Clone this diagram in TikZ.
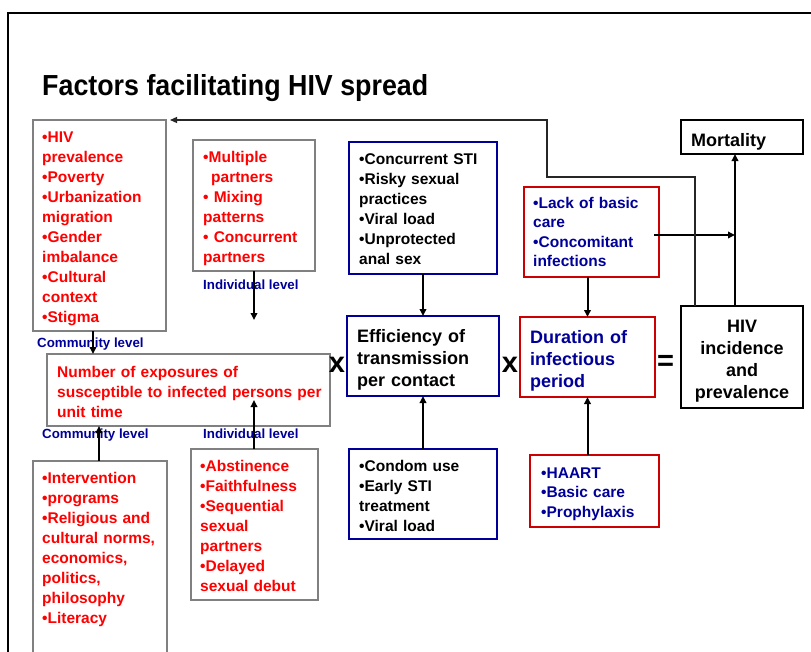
\documentclass[tikz,border=0pt]{standalone}
\usepackage{fontspec}
\setmainfont{Liberation Sans}
\usepackage{graphicx}
\usetikzlibrary{arrows.meta}
\definecolor{navy}{RGB}{0,0,153}
\definecolor{boxred}{RGB}{204,0,0}
\definecolor{boxgray}{RGB}{128,128,128}
\definecolor{txtred}{RGB}{255,0,0}
\newcommand{\mkbox}[6]{\node[#2, minimum width={#5-#3}, minimum height={#6-#4}] (#1) at ({(#3+#5)/2},{(#4+#6)/2}) {};}
\begin{document}
\begin{tikzpicture}[x=1pt,y=-1pt,
 bx/.style={rectangle, inner sep=0pt, outer sep=0pt, line width=2.5pt},
 gbox/.style={bx, draw=boxgray},
 bbox/.style={bx, draw=navy},
 rbox/.style={bx, draw=boxred},
 kbox/.style={bx, draw=black},
 lst/.style={anchor=base west, inner sep=0pt, text width=320pt, align=left, font=\fontsize{15.5}{20}\selectfont\bfseries},
 lstb/.style={lst, font=\fontsize{15.5}{19.5}\selectfont\bfseries},
 big/.style={anchor=base west, inner sep=0pt, text width=200pt, align=left, font=\fontsize{18}{22}\selectfont\bfseries},
 lvl/.style={anchor=base west, inner sep=0pt, text=navy, font=\fontsize{13.3}{15}\selectfont\bfseries},
 opsign/.style={anchor=base, inner sep=0pt, font=\fontsize{29}{30}\selectfont\bfseries},
 arr/.style={line width=2pt, -{Triangle[length=7pt,width=6.5pt]}},
 thinline/.style={line width=1.2pt, draw=black!85, -{Triangle[length=7pt,width=6pt]}},
]
\useasboundingbox (0,0) rectangle (811,651);
\clip (0,0) rectangle (811,651);
\fill[white] (0,0) rectangle (811,651);
% frame
\draw[line width=1.8pt] (8,700) -- (8,13) -- (830,13);
% title
\node[anchor=base west, inner sep=0pt, font=\fontsize{29}{30}\selectfont\bfseries] (title) at (42,95.5) {\scalebox{0.925}[1]{Factors facilitating HIV spread}};
% boxes
\mkbox{comm1}{gbox}{33}{120}{166}{331}
\mkbox{ind1}{gbox}{193}{140}{315}{271}
\mkbox{num}{gbox}{47}{354}{330}{426}
\mkbox{comm2}{gbox}{33}{461}{167}{665}
\mkbox{ind2}{gbox}{191}{449}{318}{600}
\mkbox{sti}{bbox}{349}{142}{497}{274}
\mkbox{eff}{bbox}{347}{316}{499}{396}
\mkbox{condom}{bbox}{349}{449}{497}{539}
\mkbox{lack}{rbox}{524}{187}{659}{277}
\mkbox{dur}{rbox}{520}{317}{655}{397}
\mkbox{haart}{rbox}{530}{455}{659}{527}
\mkbox{mort}{kbox}{681}{120}{803}{154}
\mkbox{hiv}{kbox}{681}{306}{803}{408}
% texts
\node[lst, text=txtred] (tcomm1) at (42,142) {•HIV\\prevalence\\•Poverty\\•Urbanization\\migration\\•Gender\\imbalance\\•Cultural\\context\\•Stigma};
\node[lst, text=txtred] (tind1) at (203,162) {•Multiple\\\hspace*{8pt}partners\\• Mixing\\patterns\\• Concurrent\\partners};
\node[lst, text=txtred] (tnum) at (57,377.5) {Number of exposures of\\susceptible to infected persons per\\unit time};
\node[lst, text=txtred] (tcomm2) at (42,483) {•Intervention\\•programs\\•Religious and\\cultural norms,\\economics,\\politics,\\philosophy\\•Literacy};
\node[lst, text=txtred] (tind2) at (200,471) {•Abstinence\\•Faithfulness\\•Sequential\\sexual\\partners\\•Delayed\\sexual debut};
\node[lst, text=black] (tsti) at (359,164) {•Concurrent STI\\•Risky sexual\\practices\\•Viral load\\•Unprotected\\anal sex};
\node[big, text=black] (teff) at (357,342) {Efficiency of\\transmission\\per contact};
\node[lst, text=black] (tcondom) at (359,471) {•Condom use\\•Early STI\\treatment\\•Viral load};
\node[big, text=navy] (tdur) at (530,343) {Duration of\\infectious\\period};
\node[lstb, text=navy] (thaart) at (541,478) {•HAART\\•Basic care\\•Prophylaxis};
\node[lstb, text=navy] (tlack) at (533,208) {•Lack of basic\\care\\•Concomitant\\infections};
\node[big, text=black] (tmort) at (691,146) {Mortality};
\node[big, text=black, anchor=base, text width=120pt, align=center] (thiv) at (742,332) {HIV\\incidence\\and\\prevalence};
% level labels
\node[lvl] (lv1) at (37,347) {Community level};
\node[lvl] (lv2) at (203,289) {Individual level};
\node[lvl] (lv3) at (42,438) {Community level};
\node[lvl] (lv4) at (203,438) {Individual level};
% operators
\node[opsign] (op1) at (337,372) {x};
\node[opsign] (op2) at (510,372) {x};
\node[opsign] (op3) at (665.5,370) {=};
% connectors
\coordinate (e2) at (254,320);
\coordinate (e4) at (254,400);
\coordinate (mj) at (735,235);
\draw[arr] ([xshift=-6.5pt]comm1.south) -- ([xshift=-6.5pt]comm1.south |- num.north);
\draw[arr] (ind1.south) -- (e2);
\draw[arr] ([xshift=-1pt]comm2.north) -- ([xshift=-1pt]comm2.north |- num.south);
\draw[arr] (ind2.north -| e4) -- (e4);
\draw[arr] (sti.south) -- (eff.north);
\draw[arr] (condom.north) -- (eff.south);
\draw[arr] (lack.south -| dur.north) -- (dur.north);
\draw[arr] (haart.north -| dur.south) -- (dur.south);
\draw[arr] ([xshift=-7pt]hiv.north) -- ([xshift=-7pt]mort.south);
\draw[arr] ([xshift=-5pt]lack.east |- mj) -- (mj);
\draw[thinline] ([xshift=-47pt]hiv.north) -- ++(0,-129) -- ++(-148,0) |- ([xshift=4pt]comm1.north east);
\end{tikzpicture}
\end{document}
